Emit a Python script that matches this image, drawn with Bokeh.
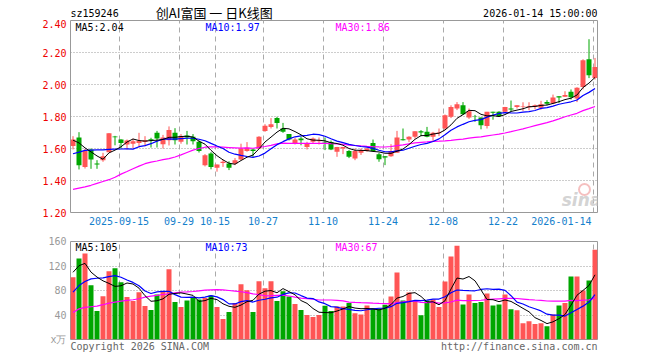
import math
from bokeh.plotting import figure
from bokeh.layouts import column
from bokeh.models import (FixedTicker, PrintfTickFormatter, CustomJSTickFormatter, Label,
                          ColumnDataSource, Range1d)
from bokeh.core.properties import value
from bokeh.embed import file_html
from bokeh.resources import INLINE

# ---------------- data ----------------
symbol = "sz159246"
title_text = "创AI富国 一 日K线图"
timestamp = "2026-01-14 15:00:00"
footer_left = "Copyright 2026 SINA.COM"
footer_right = "http://finance.sina.com.cn"
vol_unit = "x万"

open_p = [1.615, 1.669, 1.485, 1.594, 1.506, 1.527, 1.577, 1.675, 1.656, 1.625,
          1.630, 1.635, 1.640, 1.658, 1.698, 1.627, 1.652, 1.698, 1.642, 1.681,
          1.673, 1.642, 1.496, 1.569, 1.480, 1.510, 1.506, 1.506, 1.531, 1.585,
          1.594, 1.600, 1.710, 1.735, 1.790, 1.725, 1.690, 1.631, 1.6625, 1.610,
          1.642, 1.646, 1.642, 1.641, 1.579, 1.600, 1.585, 1.537, 1.573, 1.585,
          1.635, 1.564, 1.552, 1.552, 1.573, 1.658, 1.656, 1.673, 1.708, 1.704,
          1.673, 1.696, 1.725, 1.798, 1.850, 1.870, 1.793, 1.800, 1.793, 1.740,
          1.829, 1.829, 1.829, 1.850, 1.860, 1.862, 1.858, 1.860, 1.854, 1.890,
          1.881, 1.927, 1.923, 1.954, 1.913, 1.985, 2.158, 2.041]
high_p = [1.677, 1.702, 1.598, 1.600, 1.527, 1.573, 1.696, 1.679, 1.658, 1.656,
          1.662, 1.698, 1.677, 1.667, 1.710, 1.685, 1.738, 1.727, 1.690, 1.710,
          1.690, 1.650, 1.565, 1.577, 1.500, 1.530, 1.520, 1.540, 1.630, 1.640,
          1.600, 1.677, 1.752, 1.790, 1.798, 1.760, 1.690, 1.667, 1.673, 1.642,
          1.669, 1.669, 1.669, 1.650, 1.610, 1.610, 1.590, 1.600, 1.600, 1.604,
          1.656, 1.573, 1.552, 1.627, 1.710, 1.725, 1.677, 1.708, 1.715, 1.735,
          1.704, 1.725, 1.8125, 1.870, 1.890, 1.890, 1.850, 1.810, 1.793, 1.829,
          1.830, 1.833, 1.860, 1.900, 1.871, 1.889, 1.889, 1.875, 1.898, 1.902,
          1.937, 1.927, 1.958, 1.969, 1.983, 2.158, 2.283, 2.166]
low_p = [1.594, 1.469, 1.475, 1.473, 1.473, 1.517, 1.577, 1.620, 1.600, 1.594,
         1.600, 1.606, 1.614, 1.606, 1.606, 1.600, 1.619, 1.625, 1.630, 1.625,
         1.625, 1.575, 1.488, 1.470, 1.455, 1.485, 1.465, 1.496, 1.527, 1.580,
         1.548, 1.598, 1.704, 1.725, 1.725, 1.698, 1.650, 1.625, 1.620, 1.594,
         1.631, 1.625, 1.590, 1.590, 1.548, 1.565, 1.540, 1.527, 1.560, 1.580,
         1.585, 1.517, 1.496, 1.548, 1.573, 1.650, 1.640, 1.662, 1.677, 1.670,
         1.648, 1.677, 1.715, 1.790, 1.840, 1.810, 1.785, 1.767, 1.720, 1.725,
         1.780, 1.800, 1.825, 1.833, 1.850, 1.835, 1.839, 1.845, 1.843, 1.871,
         1.877, 1.885, 1.923, 1.906, 1.890, 1.969, 2.040, 2.031]
close_p = [1.656, 1.496, 1.585, 1.531, 1.500, 1.552, 1.696, 1.670, 1.635, 1.650,
           1.646, 1.648, 1.652, 1.652, 1.662, 1.669, 1.715, 1.652, 1.677, 1.669,
           1.646, 1.585, 1.558, 1.485, 1.500, 1.517, 1.480, 1.527, 1.600, 1.604,
           1.585, 1.673, 1.742, 1.752, 1.760, 1.704, 1.656, 1.656, 1.652, 1.635,
           1.6625, 1.652, 1.638, 1.593, 1.610, 1.610, 1.548, 1.585, 1.590, 1.600,
           1.585, 1.533, 1.544, 1.585, 1.669, 1.652, 1.673, 1.708, 1.700, 1.673,
           1.698, 1.700, 1.808, 1.860, 1.877, 1.814, 1.833, 1.798, 1.746, 1.829,
           1.823, 1.802, 1.860, 1.844, 1.870, 1.866, 1.864, 1.870, 1.877, 1.880,
           1.918, 1.918, 1.935, 1.921, 1.980, 2.151, 2.058, 2.110]
volume = [101.6, 132.4, 140.5, 88.6, 46.5, 70.8, 111.4, 116.2, 93.5, 69.2,
          62.7, 77.3, 54.6, 48.1, 73.5, 78.4, 114.6, 61.1, 53.0, 63.8,
          67.6, 65.4, 67.6, 71.9, 53.0, 33.5, 44.9, 59.5, 90.3, 80.5,
          44.9, 95.1, 83.8, 95.1, 62.7, 78.9, 70.3, 57.8, 48.1, 40.0,
          36.8, 40.0, 55.1, 46.5, 54.0, 54.0, 59.5, 42.7, 41.0, 55.7,
          50.8, 50.8, 56.8, 70.3, 109.2, 63.8, 76.8, 62.2, 39.5, 63.8,
          65.4, 53.0, 94.6, 135.7, 153.0, 57.3, 73.5, 59.5, 61.1, 75.1,
          55.7, 57.3, 73.5, 49.2, 47.6, 26.5, 29.7, 25.4, 26.5, 21.6,
          41.0, 55.7, 59.5, 102.7, 102.7, 80.0, 96.2, 146.5]

# moving-average values before enough visible history exists
ma5_head = [1.652, 1.635, 1.604, 1.579]
ma10_head = [1.567, 1.577, 1.588, 1.590, 1.591, 1.592, 1.594, 1.596, 1.597]
ma30_head = [1.344, 1.352, 1.360, 1.370, 1.382, 1.394, 1.405, 1.420, 1.440, 1.456,
             1.473, 1.490, 1.505, 1.515, 1.522, 1.530, 1.537, 1.547, 1.560, 1.575,
             1.590, 1.600, 1.608, 1.610, 1.610, 1.608, 1.606, 1.604, 1.602]
vma5_head = [109.7, 120.5, 124.3, 110.0]
vma10_head = [77.3, 88.1, 94.6, 98.9, 100.0, 100.5, 102.7, 104.3, 101.6]
vma30_head = [44.0, 50.0, 52.4, 53.5, 54.6, 56.8, 59.5, 61.1, 62.7, 63.8,
              64.9, 66.5, 69.2, 70.8, 72.0, 73.5, 74.6, 76.2, 77.3, 77.8,
              78.4, 79.5, 80.5, 81.0, 81.5, 81.0, 80.0, 79.0, 78.0]

# date ticks (candle number -> label)
tick_idx = [9, 19, 25, 33, 43, 53, 63, 73, 88]
tick_labels = ["2025-09-15", "09-29", "10-15", "10-27", "11-10", "11-24", "12-08", "12-22", "2026-01-14"]
price_ticks = [1.2, 1.4, 1.6, 1.8, 2.0, 2.2, 2.4]
vol_ticks = [0, 40, 80, 120, 160]

# ---------------- derived ----------------
def moving_avg(vals, k, head):
    out = list(head)
    for i in range(k - 1, len(vals)):
        out.append(sum(vals[i - k + 1:i + 1]) / k)
    return out

n = len(close_p)
idx = list(range(1, n + 1))
UP, DOWN = "#ff5555", "#00a600"
colors = [UP if c >= o else DOWN for o, c in zip(open_p, close_p)]
ma5 = moving_avg(close_p, 5, ma5_head)
ma10 = moving_avg(close_p, 10, ma10_head)
ma30 = moving_avg(close_p, 30, ma30_head)
vma5 = moving_avg(volume, 5, vma5_head)
vma10 = moving_avg(volume, 10, vma10_head)
vma30 = moving_avg(volume, 30, vma30_head)

src = ColumnDataSource(dict(
    x=idx, h=high_p, l=low_p,
    top=[max(o, c) for o, c in zip(open_p, close_p)],
    bot=[min(o, c) for o, c in zip(open_p, close_p)],
    color=colors, vol=volume,
    ma5=ma5, ma10=ma10, ma30=ma30, vma5=vma5, vma10=vma10, vma30=vma30))

# ---------------- geometry ----------------
PX = 6.0                      # pixels per trading day
FRAME_W = 527
LEFT, RIGHT = 70, 15
FIG_W = LEFT + FRAME_W + RIGHT
x_lo = 1 - 2.5 / PX
x_hi = x_lo + FRAME_W / PX
MONO = "DejaVu Sans Mono"
CJK = "Noto Sans CJK SC"
CHAR_W = 6.02                 # advance of MONO at 10px
GRID_X = [i - 1.0 / 3.0 for i in tick_idx]
HEAD_H = 24
OVERLAP = 5

def xd(px):
    return 1 + (px - 72.5) / PX

def yd1(py):
    return 2.40 - (py - 20) / 160.0

def yd2(py):
    return 160 - (py - 241) / (99 / 160.0)

def add_label(p, x, y, text, color="#000000", align="left", font=MONO, size="10px",
              style="normal", alpha=1.0):
    p.add_layout(Label(x=x, y=y, text=text, text_color=color, text_align=align,
                       text_baseline="middle", text_font=font, text_font_size=size,
                       text_font_style=style, text_alpha=alpha))

def plain_axis(ax, standoff):
    ax.axis_line_color = None
    ax.major_tick_line_color = None
    ax.minor_tick_line_color = None
    ax.major_tick_out = 0
    ax.major_tick_in = 0
    ax.major_label_standoff = standoff
    ax.major_label_text_font = MONO
    ax.major_label_text_font_size = "10px"

def style_fig(p, hgrid):
    p.ygrid.ticker = FixedTicker(ticks=hgrid)
    p.ygrid.grid_line_color = "#9a9a9a"
    p.ygrid.grid_line_dash = "1 2"
    p.xgrid.ticker = FixedTicker(ticks=GRID_X)
    p.xgrid.grid_line_color = "#aaaaaa"
    p.xgrid.grid_line_dash = "5 4"
    p.outline_line_color = "#999999"
    p.outline_line_width = 1

shared_x = Range1d(x_lo, x_hi)

# ---------------- header strip (frame aligned with the panels below) ----------------
p0 = figure(width=FIG_W, height=HEAD_H, x_range=shared_x, y_range=Range1d(HEAD_H, 0),
            output_backend="svg", toolbar_location=None, tools="",
            min_border_left=LEFT, min_border_right=RIGHT, min_border_top=0, min_border_bottom=0,
            margin=(0, 0, -OVERLAP, 0))
p0.axis.visible = False
p0.grid.visible = False
p0.outline_line_color = None
p0.text(x=[xd(70)], y=[13.3], text=[symbol], text_font=value(MONO), text_font_size="10px",
        text_align="left", text_baseline="middle", text_color="#000000")
p0.text(x=[xd(213.7)], y=[12.3], text=[title_text], text_font=value(CJK), text_font_size="13px",
        text_align="center", text_baseline="middle", text_color="#000000")
p0.text(x=[xd(597)], y=[13.0], text=[timestamp], text_font=value(MONO), text_font_size="10px",
        text_align="right", text_baseline="middle", text_color="#000000")

# ---------------- price panel ----------------
p1 = figure(width=FIG_W, height=1 + 192 + 20, x_range=shared_x,
            y_range=Range1d(1.2, 2.4), output_backend="svg", toolbar_location=None, tools="",
            min_border_left=LEFT, min_border_right=RIGHT, min_border_top=1, min_border_bottom=20)
style_fig(p1, price_ticks[1:-1])
ay = p1.yaxis[0]
plain_axis(ay, 4)
ay.ticker = FixedTicker(ticks=price_ticks)
ay.formatter = PrintfTickFormatter(format="%.2f")
ay.major_label_text_color = "#ee0000"

# date labels: centred on their grid line, the last one kept inside the frame
last_center = xd(597 - 6 - len(tick_labels[-1]) * CHAR_W / 2)
date_pos = GRID_X[:-1] + [last_center]
ax = p1.xaxis[0]
plain_axis(ax, 4)
ax.ticker = FixedTicker(ticks=date_pos)
ax.formatter = CustomJSTickFormatter(args=dict(labels=tick_labels), code="return labels[index];")
ax.major_label_text_color = "#1580cc"

# faint sina watermark (eye ring + word)
p1.scatter(x=[xd(584)], y=[yd1(189)], marker="circle", size=11, fill_color=None,
           line_color="#f2b0b0", line_width=2, line_alpha=0.8)
add_label(p1, xd(581), yd1(199), "sina", color="#c8c8c8", size="17px",
          font="DejaVu Sans", style="bold italic", align="center", alpha=0.8)

p1.segment(x0="x", y0="l", x1="x", y1="h", color="color", line_width=1, source=src)
p1.vbar(x="x", top="top", bottom="bot", width=5 / PX, fill_color="color",
        line_color=None, source=src)
p1.line("x", "ma30", source=src, color="#ff00ff", line_width=1.2)
p1.line("x", "ma10", source=src, color="#0000ff", line_width=1.2)
p1.line("x", "ma5", source=src, color="#000000", line_width=1)

fl2 = lambda v: "%.2f" % (math.floor(v * 100 + 1e-9) / 100)
add_label(p1, xd(75), yd1(26.5), "MA5:" + fl2(ma5[-1]), color="#000000")
add_label(p1, xd(205), yd1(26.5), "MA10:" + fl2(ma10[-1]), color="#0000ff")
add_label(p1, xd(335), yd1(26.5), "MA30:" + fl2(ma30[-1]), color="#ff00ff")

# ---------------- volume panel ----------------
p2 = figure(width=FIG_W, height=9 + 99 + 14, x_range=shared_x, y_range=Range1d(0, 160),
            output_backend="svg", toolbar_location=None, tools="",
            min_border_left=LEFT, min_border_right=RIGHT, min_border_top=9, min_border_bottom=14)
style_fig(p2, vol_ticks[1:-1])
vy = p2.yaxis[0]
plain_axis(vy, 4)
vy.ticker = FixedTicker(ticks=vol_ticks)
vy.formatter = CustomJSTickFormatter(args=dict(unit=vol_unit),
                                     code="return tick == 0 ? unit : tick.toFixed(0);")
vy.major_label_text_color = "#999999"

foot_pos = [xd(70 + len(footer_left) * CHAR_W / 2), xd(597 - len(footer_right) * CHAR_W / 2)]
vx = p2.xaxis[0]
plain_axis(vx, 1)
vx.ticker = FixedTicker(ticks=foot_pos)
vx.formatter = CustomJSTickFormatter(args=dict(labels=[footer_left, footer_right]),
                                     code="return labels[index];")
vx.major_label_text_color = "#666666"

p2.vbar(x="x", top="vol", bottom=0, width=5 / PX, fill_color="color", line_color=None, source=src)
p2.line("x", "vma30", source=src, color="#ff00ff", line_width=1.2)
p2.line("x", "vma10", source=src, color="#0000ff", line_width=1.2)
p2.line("x", "vma5", source=src, color="#000000", line_width=1)

add_label(p2, xd(75), yd2(247), "MA5:%d" % int(vma5[-1]), color="#000000")
add_label(p2, xd(205), yd2(247), "MA10:%d" % int(vma10[-1]), color="#0000ff")
add_label(p2, xd(335), yd2(247), "MA30:%d" % int(vma30[-1]), color="#ff00ff")

layout = column(p0, p1, p2, spacing=0)
open("out.html", "w").write(file_html(layout, INLINE))
